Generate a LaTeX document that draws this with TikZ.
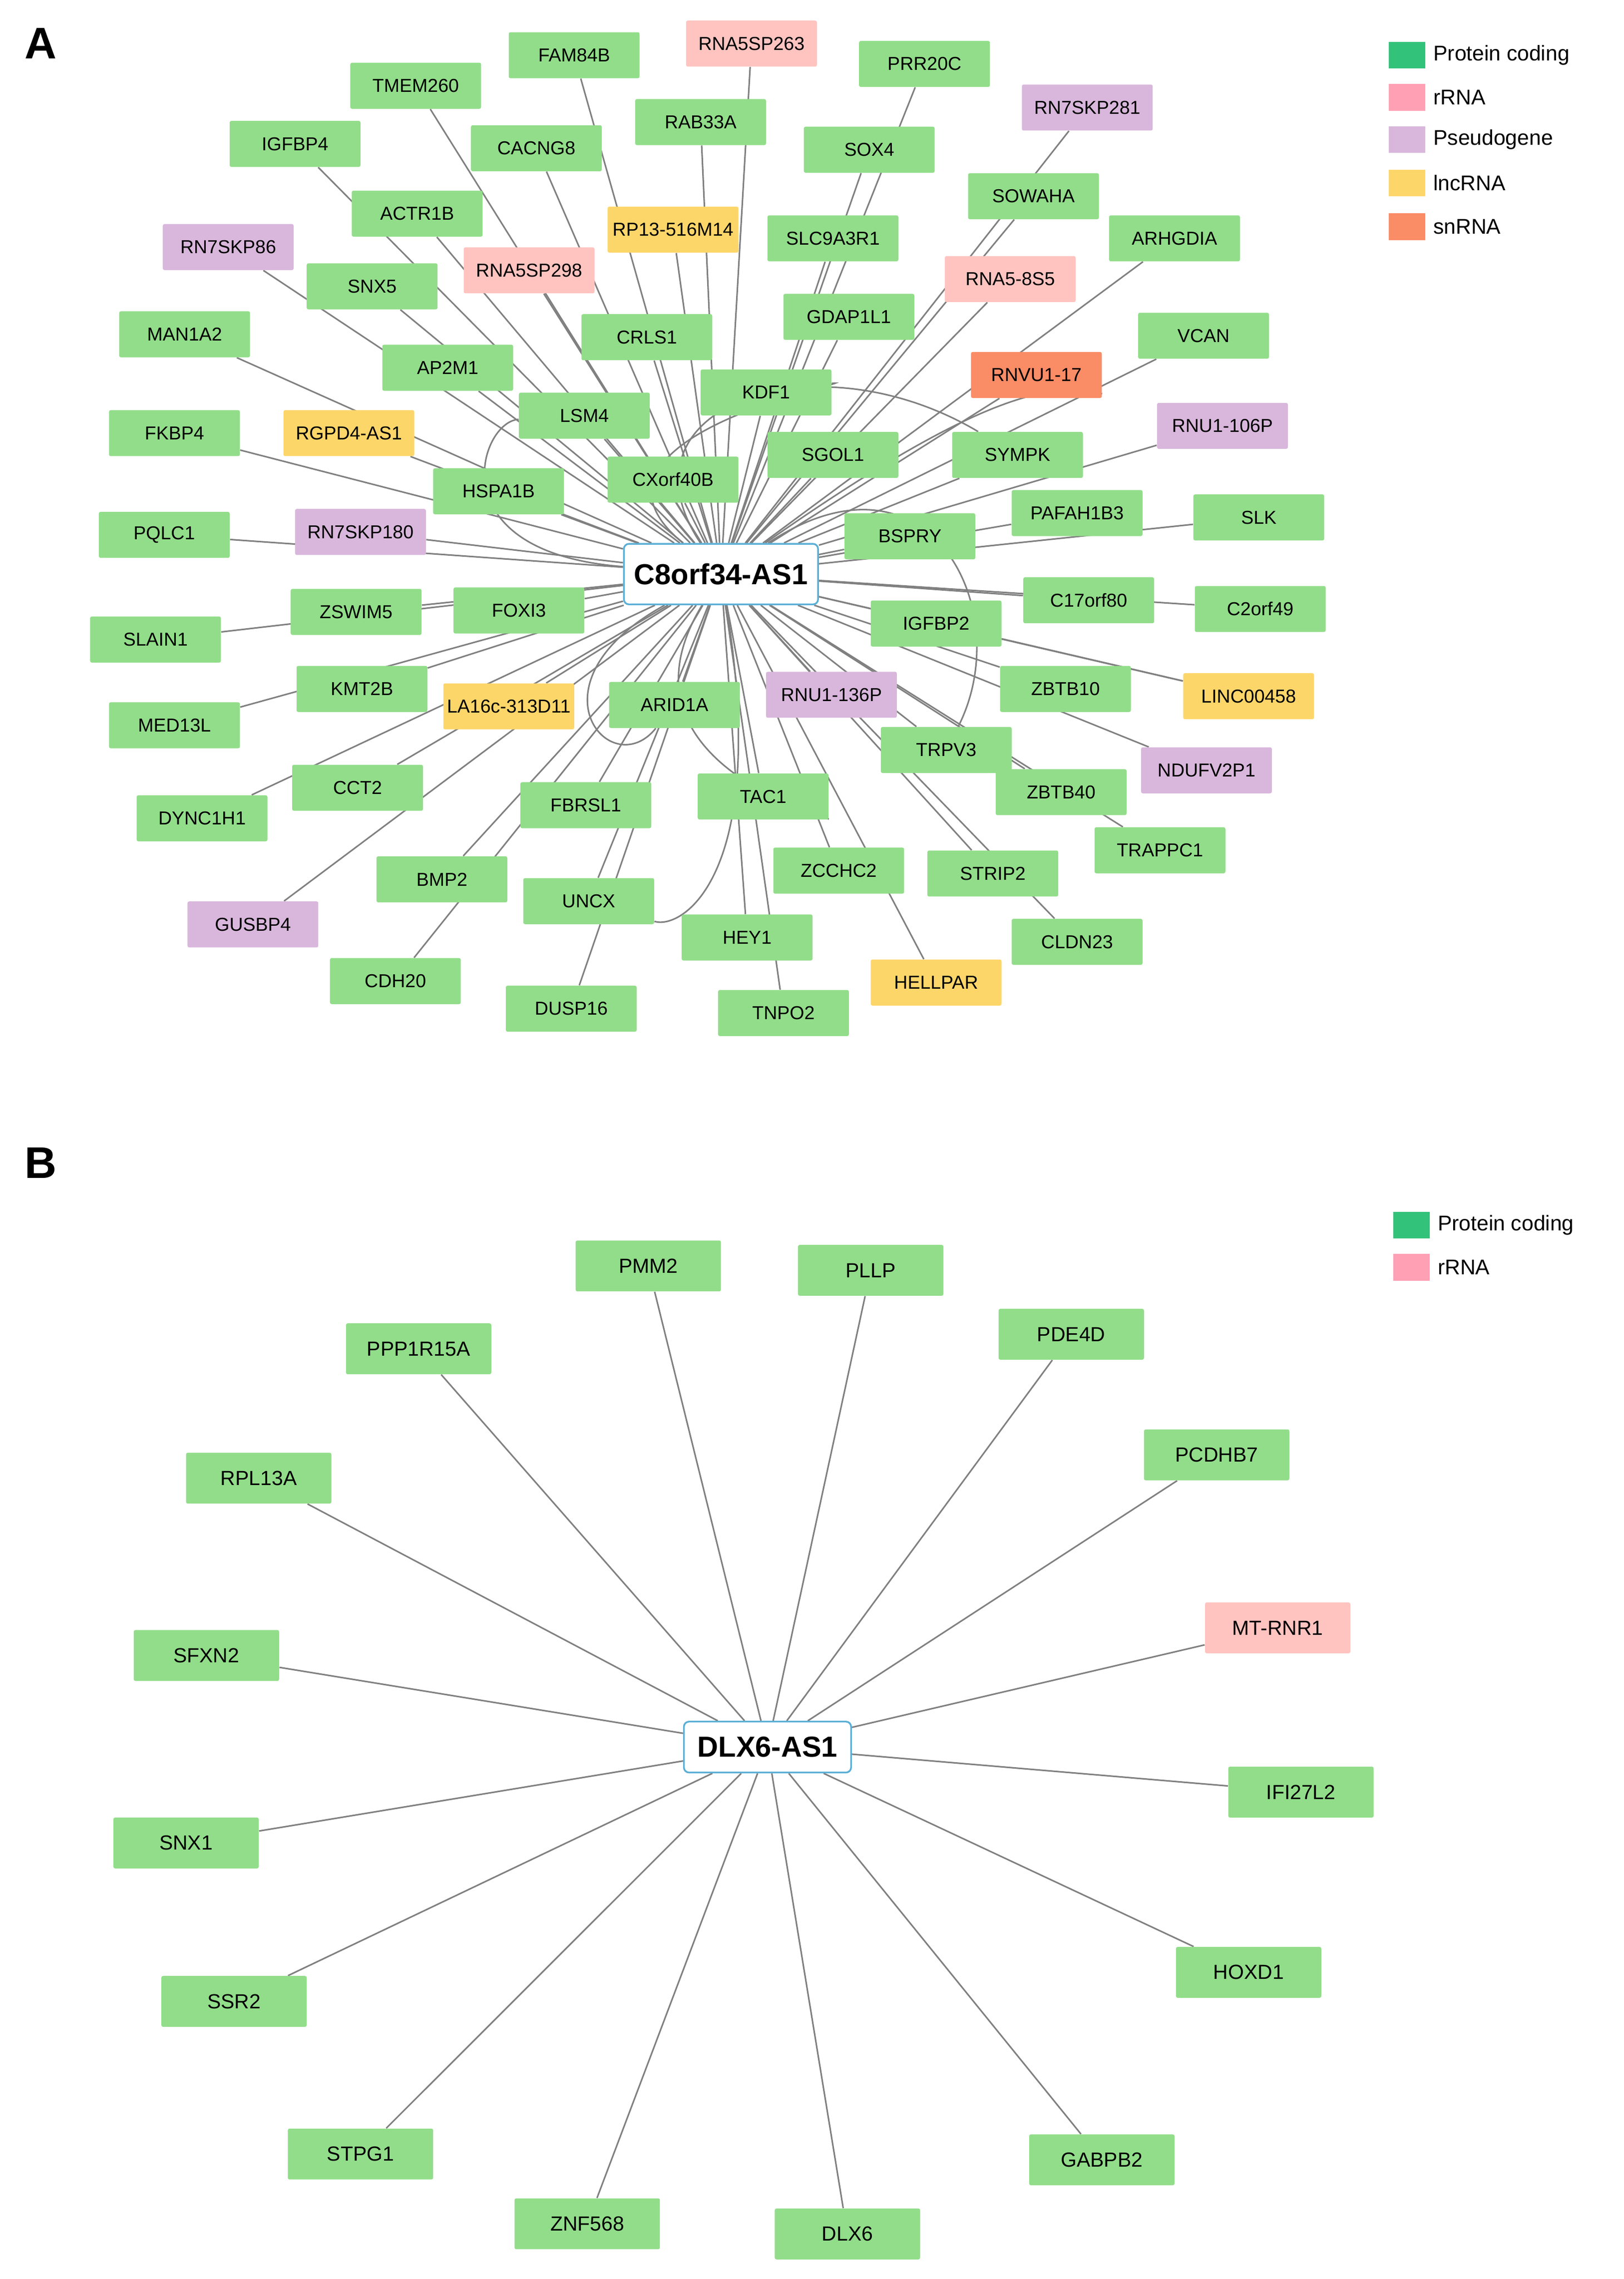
\documentclass[tikz,border=0pt]{standalone}
\usepackage{fontspec}
\setmainfont{Liberation Sans}
\usetikzlibrary{backgrounds}
\definecolor{gn}{RGB}{146,221,138}
\definecolor{pk}{RGB}{255,196,192}
\definecolor{pu}{RGB}{217,183,220}
\definecolor{yl}{RGB}{253,214,106}
\definecolor{og}{RGB}{250,140,102}
\definecolor{lgn}{RGB}{51,194,122}
\definecolor{lpk}{RGB}{255,160,180}
\definecolor{ed}{RGB}{128,128,128}
\definecolor{bl}{RGB}{90,175,214}
\tikzset{
 x=0.03cm,y=-0.03cm,
 box/.style={rectangle,rounded corners=1pt,minimum width=2.7cm,minimum height=0.95cm,inner sep=1pt,font=\fontsize{11}{13}\selectfont},
 ng/.style={box,fill=gn}, np/.style={box,fill=pk}, nu/.style={box,fill=pu}, ny/.style={box,fill=yl}, no/.style={box,fill=og},
 gb/.style={ng,minimum width=3cm,minimum height=1.05cm,font=\fontsize{12}{14}\selectfont},
 pb/.style={gb,fill=pk},
 hub/.style={rectangle,rounded corners=3pt,draw=bl,line width=1pt,fill=white,font=\fontsize{17}{20}\bfseries\selectfont,inner xsep=6pt,minimum height=1.25cm},
 edge/.style={draw=ed,line width=0.9pt},
 leg/.style={rectangle,minimum width=0.75cm,minimum height=0.55cm,inner sep=0pt},
 legt/.style={anchor=west,font=\fontsize{12.5}{15}\selectfont},
 lab/.style={font=\fontsize{26}{30}\bfseries\selectfont}
}
\begin{document}
\begin{tikzpicture}
\useasboundingbox (0,0) rectangle (1117,1568);
\node[lab] (LA) at (28,30) {A};
\node[lab] (LB) at (28,800) {B};
\node[hub] (c) at (496,395) {C8orf34-AS1};
\foreach \x/\y/\s/\t [count=\i] in {
395/38/ng/FAM84B, 517/30/np/RNA5SP263, 636/44/ng/PRR20C, 748/74/nu/RN7SKP281,
286/59/ng/TMEM260, 203/99/ng/IGFBP4, 369/102/ng/CACNG8, 482/84/ng/RAB33A,
598/103/ng/SOX4, 711/135/ng/SOWAHA, 808/164/ng/ARHGDIA, 287/147/ng/ACTR1B,
463/158/ny/RP13-516M14, 573/164/ng/SLC9A3R1, 157/170/nu/RN7SKP86, 256/197/ng/SNX5,
364/186/np/RNA5SP298, 695/192/np/RNA5-8S5, 584/218/ng/GDAP1L1, 127/230/ng/MAN1A2,
445/232/ng/CRLS1, 828/231/ng/VCAN, 308/253/ng/AP2M1, 527/270/ng/KDF1,
713/258/no/RNVU1-17, 402/286/ng/LSM4, 120/298/ng/FKBP4, 240/298/ny/RGPD4-AS1,
841/293/nu/RNU1-106P, 573/313/ng/SGOL1, 700/313/ng/SYMPK, 463/330/ng/CXorf40B,
343/338/ng/HSPA1B, 741/353/ng/PAFAH1B3, 866/356/ng/SLK, 113/368/ng/PQLC1,
248/366/nu/RN7SKP180, 626/369/ng/BSPRY, 749/413/ng/C17orf80, 867/419/ng/C2orf49,
245/421/ng/ZSWIM5, 357/420/ng/FOXI3, 107/440/ng/SLAIN1, 644/429/ng/IGFBP2,
249/474/ng/KMT2B, 350/486/ny/LA16c-313D11, 464/485/ng/ARID1A, 572/478/nu/RNU1-136P,
733/474/ng/ZBTB10, 859/479/ny/LINC00458, 120/499/ng/MED13L, 651/516/ng/TRPV3,
830/530/nu/NDUFV2P1, 246/542/ng/CCT2, 403/554/ng/FBRSL1, 525/548/ng/TAC1,
730/545/ng/ZBTB40, 139/563/ng/DYNC1H1, 798/585/ng/TRAPPC1, 304/605/ng/BMP2,
577/599/ng/ZCCHC2, 683/601/ng/STRIP2, 405/620/ng/UNCX, 174/636/nu/GUSBP4,
514/645/ng/HEY1, 741/648/ng/CLDN23, 272/675/ng/CDH20, 644/676/ny/HELLPAR,
393/694/ng/DUSP16, 539/697/ng/TNPO2}
{ \node[\s] (a\i) at (\x,\y) {\t}; }
\begin{scope}[on background layer]
\foreach \i in {1,...,70} { \draw[edge] (c) -- (a\i); }
\draw[edge] (c) .. controls (420,280) and (560,230) .. (a31);
\draw[edge] (c) .. controls (380,300) and (600,260) .. (a24);
\draw[edge] (c) .. controls (420,520) and (560,560) .. (a56);
\draw[edge] (c) .. controls (360,470) and (420,540) .. (a47);
\draw[edge] (c) .. controls (640,300) and (700,420) .. (a52);
\draw[edge] (c) .. controls (300,380) and (330,290) .. (a26);
\draw[edge] (c) .. controls (530,600) and (470,640) .. (a63);
\draw[edge] (c) .. controls (660,280) and (720,260) .. (a25);
\draw[edge] (a44) -- (a50);
\end{scope}
\foreach \yy/\cc/\tt [count=\j] in {38/lgn/Protein coding, 67/lpk/rRNA, 96/pu/Pseudogene, 126/yl/lncRNA, 156/og/snRNA}
{ \node[leg,fill=\cc] (la\j) at (968,\yy) {}; \node[legt] (lt\j) at (982,\yy) {\tt}; }
\node[hub,minimum height=1.05cm,inner xsep=8pt] (d) at (528,1202) {DLX6-AS1};
\foreach \x/\y/\s/\t [count=\i] in {
446/871/gb/PMM2, 599/874/gb/PLLP, 288/928/gb/PPP1R15A, 737/918/gb/PDE4D,
178/1017/gb/RPL13A, 837/1001/gb/PCDHB7, 879/1120/pb/MT-RNR1, 142/1139/gb/SFXN2,
895/1233/gb/IFI27L2, 128/1268/gb/SNX1, 859/1357/gb/HOXD1, 161/1377/gb/SSR2,
248/1482/gb/STPG1, 758/1486/gb/GABPB2, 404/1530/gb/ZNF568, 583/1537/gb/DLX6}
{ \node[\s] (b\i) at (\x,\y) {\t}; }
\begin{scope}[on background layer]
\foreach \i in {1,...,16} { \draw[edge] (d) -- (b\i); }
\end{scope}
\foreach \yy/\cc/\tt [count=\j] in {843/lgn/Protein coding, 872/lpk/rRNA}
{ \node[leg,fill=\cc] (lb\j) at (971,\yy) {}; \node[legt] (lbt\j) at (985,\yy) {\tt}; }
\end{tikzpicture}
\end{document}
